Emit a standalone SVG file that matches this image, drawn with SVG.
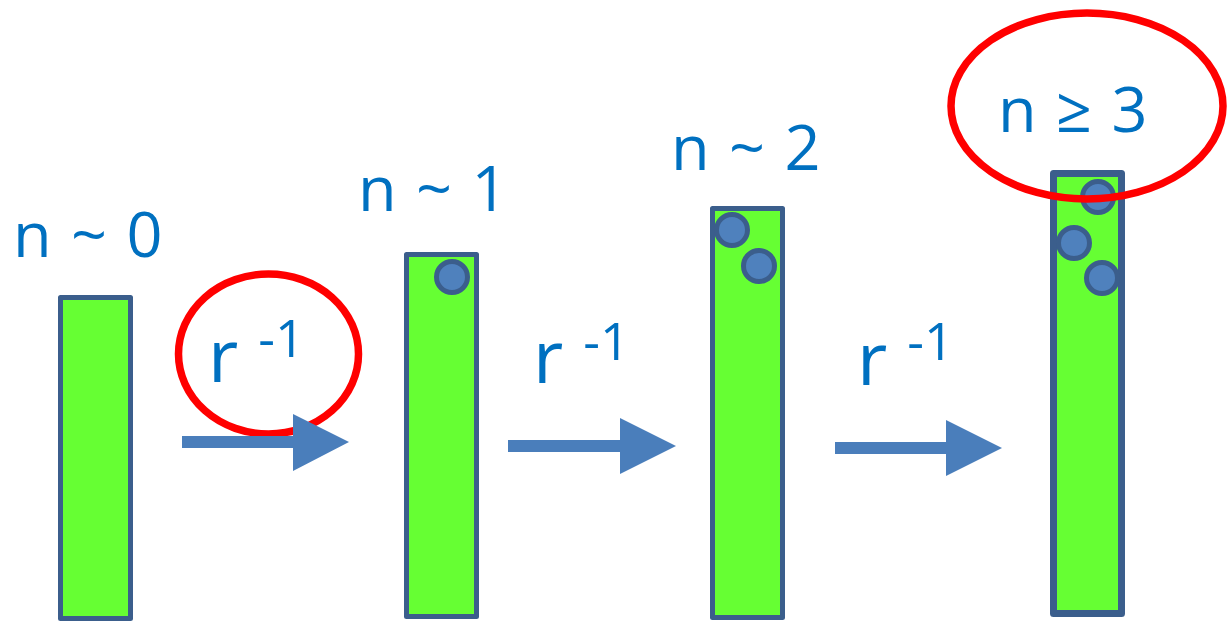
<svg xmlns="http://www.w3.org/2000/svg" width="1228" height="621" viewBox="0 0 1228 621">
<style>
.bar{fill:#66FF33;stroke:#3B5E8C;stroke-width:5;stroke-linejoin:round}
.dot{fill:#4F81BD;stroke:#3B5E8C;stroke-width:5}
.lbl{font-family:"Open Sans","Liberation Sans",sans-serif;font-size:63px;fill:#0070C0;word-spacing:3px}
.r{font-family:"Open Sans","Liberation Sans",sans-serif;font-size:74px;fill:#0070C0}
.sup{font-family:"Open Sans","Liberation Sans",sans-serif;font-size:52px;fill:#0070C0}
.ring{fill:none;stroke:#FF0000;stroke-width:7.5}
.arr{fill:#4A7EBB}
</style>
<rect width="1228" height="621" fill="#FFFFFF"/>
<g id="state0">
<rect class="bar" x="60.5" y="297.5" width="70" height="321"/>
<text class="lbl" x="13" y="257">n ~ 0</text>
</g>
<g id="state1">
<rect class="bar" x="406.5" y="254.5" width="70" height="362"/>
<circle class="dot" cx="452" cy="277" r="15.5"/>
<text class="lbl" x="358" y="211">n ~ 1</text>
</g>
<g id="state2">
<rect class="bar" x="712.5" y="208.5" width="70" height="409"/>
<circle class="dot" cx="732" cy="230" r="15.5"/>
<circle class="dot" cx="759" cy="266" r="15.5"/>
<text class="lbl" x="671" y="170">n ~ 2</text>
</g>
<g id="state3">
<rect class="bar" x="1053.5" y="173.5" width="68" height="440" style="stroke-width:7"/>
<circle class="dot" cx="1098" cy="197" r="15.5"/>
<circle class="dot" cx="1074" cy="243" r="15.5"/>
<circle class="dot" cx="1102" cy="278" r="15.5"/>
<text class="lbl" x="998" y="132">n ≥ 3</text>
</g>
<g id="highlights">
<ellipse class="ring" cx="268.5" cy="354" rx="90" ry="80"/>
<ellipse class="ring" cx="1087" cy="106" rx="136" ry="93"/>
</g>
<g id="connectors">
<polygon class="arr" points="182,436 293,436 293,414 349,442 293,471 293,448 182,448"/>
<polygon class="arr" points="508,440 620,440 620,418 676,446 620,474 620,452 508,452"/>
<polygon class="arr" points="835,442 946,442 946,420 1002,448 946,476 946,454 835,454"/>
</g>
<g id="labels">
<text x="208" y="382"><tspan class="r">r</tspan><tspan class="sup" dx="20" dy="-25">-1</tspan></text>
<text x="533" y="383"><tspan class="r">r</tspan><tspan class="sup" dx="20" dy="-23">-1</tspan></text>
<text x="857" y="385"><tspan class="r">r</tspan><tspan class="sup" dx="20" dy="-25">-1</tspan></text>
</g>
</svg>
